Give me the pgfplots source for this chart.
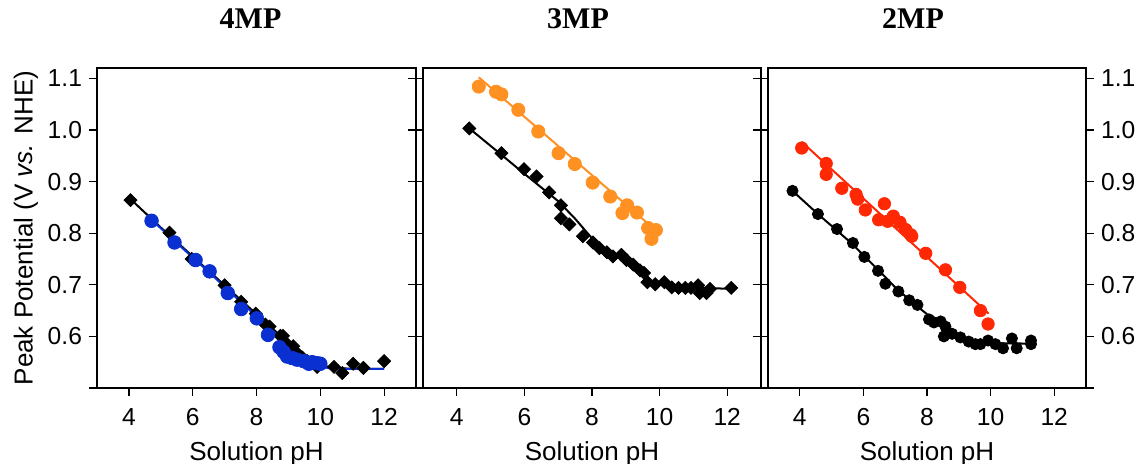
\documentclass[border=0pt]{standalone}
\usepackage{pgfplots}
\pgfplotsset{compat=1.18}
\usepackage{fontspec}
\setmainfont{Liberation Sans}
\newfontfamily\titlefont{Liberation Serif}
\definecolor{cblue}{RGB}{10,48,210}
\definecolor{corange}{RGB}{255,145,35}
\definecolor{cred}{RGB}{255,40,5}
\begin{document}
\begin{tikzpicture}
\useasboundingbox (0,0) rectangle (569.5pt,231.5pt);
\pgfplotsset{
  panel/.style={scale only axis, anchor=south west, height=160pt,
    xmin=3, xmax=13, ymin=0.5, ymax=1.12,
    xtick={4,6,8,10,12}, ytick={0.5,0.6,0.7,0.8,0.9,1.0,1.1},
    xtick pos=left, tick align=outside, major tick length=4pt,
    tick style={black, line width=0.6pt}, axis line style={line width=0.7pt},
    xlabel={Solution pH},
    /pgf/number format/assume math mode=true,
    tick label style={font=\fontsize{12.3}{14}\selectfont},
    xticklabel style={yshift=-2.5pt},
    label style={font=\fontsize{13}{15}\selectfont},
    xlabel style={yshift=-1pt},
    title style={font=\titlefont\bfseries\fontsize{15}{17}\selectfont, yshift=10pt},
  },
  rightin/.style={scale only axis, anchor=south west, height=160pt,
    xmin=3, xmax=13, ymin=0.5, ymax=1.12,
    hide x axis, axis y line*=right, ytick={0.6,0.7,0.8,0.9,1.0,1.1},
    tick align=inside, major tick length=4pt, yticklabels={},
    tick style={black, line width=0.6pt}, axis line style={line width=0.7pt}},
  dia/.style={only marks, mark=square*, mark size=2.3pt, mark options={rotate=45, draw=black, fill=black}},
  fit/.style={no marks, line width=1pt},
}
% ---------------- 4MP
\begin{axis}[panel, at={(48.5pt,37.5pt)}, width=159.5pt, ytick pos=left,
  yticklabels={,0.6,0.7,0.8,0.9,1.0,1.1},
  title={4MP}, title style={xshift=-3pt},
  ylabel={Peak Potential (V \textit{vs.} NHE)}, ylabel style={yshift=-2pt}]
\addplot[fit, black] coordinates {(4.05,0.866)(5,0.811)(6,0.755)(7,0.699)(8,0.643)(8.5,0.615)(9,0.589)(9.5,0.565)(9.9,0.548)(10.3,0.540)(11,0.537)(12,0.537)};
\addplot[dia] coordinates {(4.05,0.864)(5.27,0.801)(5.97,0.750)(7.0,0.699)(7.52,0.667)(7.98,0.644)(8.28,0.623)(8.41,0.619)(8.75,0.601)(8.83,0.601)(8.98,0.584)(9.15,0.581)(9.27,0.568)(9.44,0.559)(9.59,0.552)(9.9,0.541)(10.43,0.541)(10.69,0.529)(11.03,0.547)(11.35,0.539)(12.0,0.552)};
\addplot[fit, cblue] coordinates {(4.71,0.826)(5.5,0.781)(6.0,0.753)(6.5,0.725)(7.0,0.696)(7.5,0.667)(8.0,0.639)(8.5,0.611)(9.0,0.583)(9.3,0.567)(9.6,0.553)(9.9,0.543)(10.3,0.538)(11,0.537)(12,0.537)};
\addplot[only marks, mark=*, mark size=3.4pt, mark options={draw=cblue, fill=cblue}] coordinates {(4.71,0.824)(5.43,0.782)(6.09,0.748)(6.53,0.726)(7.1,0.684)(7.52,0.653)(8.01,0.635)(8.36,0.603)(8.72,0.579)(8.85,0.570)(8.96,0.561)(9.12,0.558)(9.27,0.555)(9.48,0.552)(9.64,0.547)(9.74,0.550)(9.9,0.548)(10.0,0.547)};
\end{axis}
\begin{axis}[rightin, at={(48.5pt,37.5pt)}, width=159.5pt]
\end{axis}
% ---------------- 3MP
\begin{axis}[panel, at={(211.5pt,37.5pt)}, width=169pt, ytick pos=left,
  yticklabels={}, title={3MP}, title style={xshift=-7pt}]
\addplot[fit, black] coordinates {(4.37,1.003)(5.3,0.953)(6.0,0.915)(7.0,0.862)(7.5,0.828)(8.0,0.790)(8.5,0.764)(9.0,0.746)(9.5,0.722)(9.7,0.705)(10.0,0.700)(11.0,0.695)(12.1,0.692)};
\addplot[dia] coordinates {(4.37,1.003)(5.32,0.955)(5.99,0.924)(6.36,0.910)(6.73,0.879)(7.08,0.854)(7.08,0.829)(7.33,0.817)(7.73,0.794)(8.03,0.782)(8.22,0.771)(8.44,0.763)(8.62,0.755)(8.87,0.758)(9.02,0.748)(9.22,0.739)(9.42,0.728)(9.54,0.723)(9.64,0.705)(9.87,0.701)(10.14,0.705)(10.36,0.695)(10.56,0.694)(10.76,0.694)(10.93,0.694)(11.14,0.699)(11.19,0.684)(11.39,0.684)(11.49,0.692)(12.12,0.694)};
\addplot[fit, corange] coordinates {(4.65,1.102)(9.93,0.803)};
\addplot[only marks, mark=*, mark size=3.3pt, mark options={draw=corange, fill=corange}] coordinates {(4.65,1.084)(5.16,1.074)(5.32,1.069)(5.82,1.039)(6.41,0.997)(7.01,0.955)(7.49,0.934)(8.02,0.898)(8.54,0.871)(9.04,0.854)(8.9,0.839)(9.33,0.840)(9.66,0.810)(9.89,0.806)(9.76,0.789)};
\end{axis}
\begin{axis}[rightin, at={(211.5pt,37.5pt)}, width=169pt]
\end{axis}
% ---------------- 2MP
\begin{axis}[panel, at={(384pt,37.5pt)}, width=159pt, ytick pos=both, yticklabel pos=right,
  yticklabels={,0.6,0.7,0.8,0.9,1.0,1.1}, title={2MP}, title style={xshift=-7pt}]
\addplot[fit, black] coordinates {(3.77,0.882)(4.57,0.837)(5.17,0.805)(5.67,0.778)(6.0,0.757)(6.5,0.727)(7.0,0.695)(7.5,0.668)(8.0,0.643)(8.5,0.618)(9.0,0.600)(9.5,0.590)(10.0,0.587)(11.27,0.586)};
\addplot[only marks, mark=*, mark size=2.8pt, mark options={draw=black, fill=black}] coordinates {(3.77,0.882)(4.57,0.837)(5.17,0.808)(5.67,0.781)(6.03,0.754)(6.46,0.727)(6.69,0.702)(7.1,0.687)(7.44,0.670)(7.7,0.661)(8.06,0.633)(8.22,0.627)(8.43,0.629)(8.58,0.619)(8.53,0.600)(8.79,0.605)(9.05,0.598)(9.31,0.590)(9.52,0.585)(9.68,0.585)(9.92,0.592)(10.15,0.585)(10.39,0.577)(10.67,0.596)(10.82,0.577)(11.27,0.592)(11.27,0.585)};
\addplot[fit, cred] coordinates {(4.06,0.977)(9.94,0.644)};
\addplot[only marks, mark=*, mark size=3.1pt, mark options={draw=cred, fill=cred}] coordinates {(4.06,0.965)(4.83,0.935)(4.83,0.914)(5.32,0.887)(5.77,0.875)(5.82,0.866)(6.06,0.845)(6.66,0.857)(6.48,0.826)(6.76,0.823)(6.94,0.833)(7.15,0.821)(7.33,0.807)(7.49,0.797)(7.52,0.794)(7.96,0.761)(8.58,0.729)(9.03,0.695)(9.68,0.650)(9.92,0.624)};
\end{axis}
\end{tikzpicture}
\end{document}
